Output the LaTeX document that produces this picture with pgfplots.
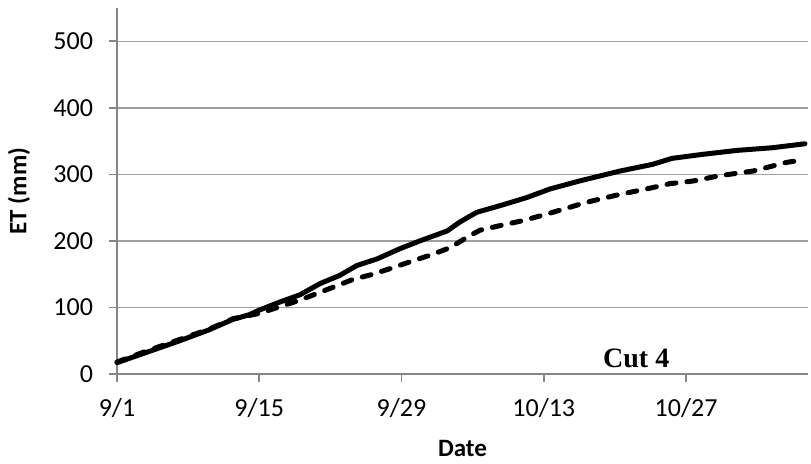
\documentclass[border=0pt]{standalone}
\usepackage{pgfplots}
\pgfplotsset{compat=1.18}
\usepackage{fontspec}
\setmainfont{Carlito}
\newfontfamily\timesfont{Liberation Serif}
\definecolor{axgray}{HTML}{868686}
\definecolor{gridgray}{HTML}{A0A0A0}
\begin{document}
\begin{tikzpicture}
\begin{axis}[
  name=ax,
  scale only axis,
  width=345.5pt, height=183pt,
  xmin=0, xmax=68, ymin=0, ymax=550,
  axis x line=bottom, axis y line=left,
  axis line style={axgray, line width=0.8pt, -},
  xtick={0,14,28,42,56},
  xticklabels={9/1,9/15,9/29,10/13,10/27},
  ytick={0,100,200,300,400,500},
  ymajorgrids,
  grid style={gridgray, line width=0.75pt},
  tick align=outside,
  major tick length=4pt,
  tick style={axgray, line width=0.8pt},
  ticklabel style={font=\fontsize{13}{15}\selectfont},
  /pgf/number format/assume math mode=true,
  xticklabel style={yshift=-4.5pt},
  yticklabel style={xshift=-4.5pt},
  xlabel={\bfseries Date},
  ylabel={\bfseries ET (mm)},
  label style={font=\fontsize{12.5}{14}\selectfont},
  xlabel style={at={(axis description cs:0.5,-0.203)}, anchor=center},
  ylabel style={at={(axis description cs:-0.142,0.5)}, anchor=center},
  clip=false,
]
\addplot[black, line width=2.5pt, line join=round, line cap=round] coordinates {
(0,17)(3,33)(6,49)(9,66)(11.4,82)(13,89)(14,96)(16,108)(18,119)(20,136)(21.9,148)(23.6,163)(25.6,173)(27.8,188)(29.8,200)(32.5,215)(33.7,228)(35.4,243)(37.7,253)(40.3,265)(42.6,278)(45.5,290)(49.5,305)(52.7,315)(54.6,324)(57.6,330)(61,336)(64.5,340)(67.7,346)
};
\addplot[black, line width=2.5pt, line cap=round, dash pattern=on 4.5pt off 5.5pt] coordinates {
(0,18)(3,35)(6,51)(9,67)(11.4,83)(14,91)(16,101)(18,111)(21.2,130)(23.2,142)(25.2,150)(27.2,160)(29.1,170)(31.1,180)(32.8,190)(34.4,205)(35.7,216)(37.7,223)(40.1,231)(42.9,243)(46.2,258)(49.5,270)(52.1,278)(54.4,286)(56.7,290)(59.3,298)(62.6,305)(65.9,318)(67.2,321)
};
\node[font=\timesfont\bfseries\fontsize{14}{16}\selectfont] at (axis cs:51.1,24) {Cut 4};
\end{axis}
\path (ax.south west) ++(-58.5pt,-45pt) coordinate (bl);
\path (ax.south west) ++(347pt,187pt) coordinate (tr);
\path (bl) rectangle (tr);
\end{tikzpicture}
\end{document}
